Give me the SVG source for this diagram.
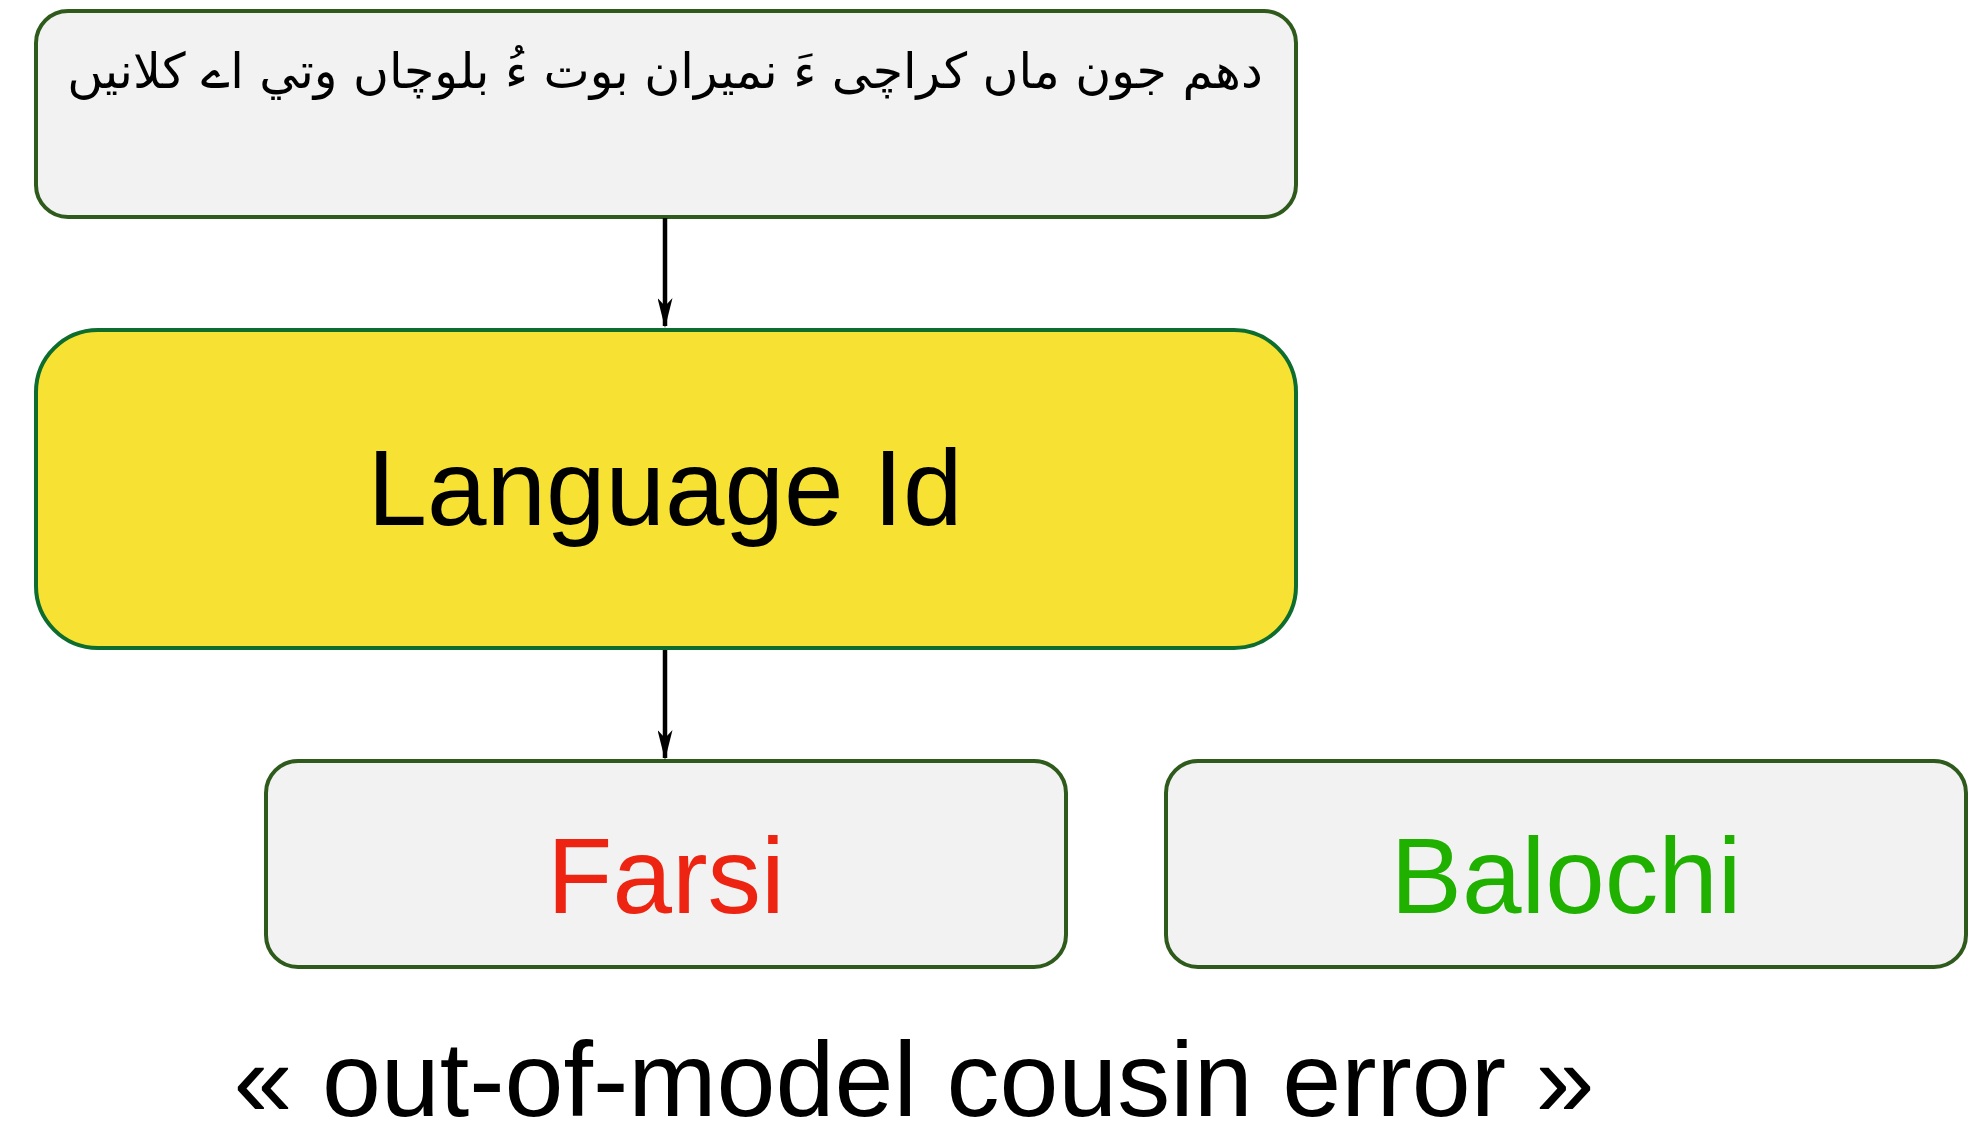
<svg xmlns="http://www.w3.org/2000/svg" width="1982" height="1139" viewBox="0 0 1982 1139">
<style>
.box{fill:#f2f2f2;stroke:#2e5b1c;stroke-width:4}
.lid{fill:#f7e234;stroke:#0c6d2f;stroke-width:4}
.lbl{font-family:"Liberation Sans",Arial,sans-serif;font-size:107px;text-anchor:middle}
.conn{stroke:#000;stroke-width:4.5;fill:none}
</style>
<defs>
<marker id="ah" markerWidth="30" markerHeight="15" refX="28" refY="7.5" orient="auto" markerUnits="userSpaceOnUse" viewBox="0 0 30 15">
<path d="M0,0 L30,7.5 L0,15 L8,7.5 Z" fill="#000"/>
</marker>
</defs>
<g id="input">
<rect class="box" x="36" y="11" width="1260" height="206" rx="32" ry="32"/>
<text x="665" y="88" direction="rtl" text-anchor="middle" font-family="'DejaVu Sans','Noto Sans',sans-serif" font-size="49" fill="#000">دهم جون ماں کراچی ءَ نمیران بوت ءُ بلوچاں وتي اے کلانیں</text>
</g>
<g id="langid">
<rect class="lid" x="36" y="330" width="1260" height="318" rx="62" ry="62"/>
<text class="lbl" x="665" y="525" fill="#000">Language Id</text>
</g>
<g id="farsi">
<rect class="box" x="266" y="761" width="800" height="206" rx="32" ry="32"/>
<text class="lbl" x="666" y="913" fill="#ee2412">Farsi</text>
</g>
<g id="balochi">
<rect class="box" x="1166" y="761" width="800" height="206" rx="32" ry="32"/>
<text class="lbl" x="1566" y="913" fill="#1fb000">Balochi</text>
</g>
<g id="caption">
<text class="lbl" x="914" y="1116" font-size="106" fill="#000" style="font-size:106px">« out-of-model cousin error »</text>
</g>
<g id="connectors">
<line class="conn" x1="665" y1="218" x2="665" y2="326" marker-end="url(#ah)"/>
<line class="conn" x1="665" y1="650" x2="665" y2="758" marker-end="url(#ah)"/>
</g>
</svg>
